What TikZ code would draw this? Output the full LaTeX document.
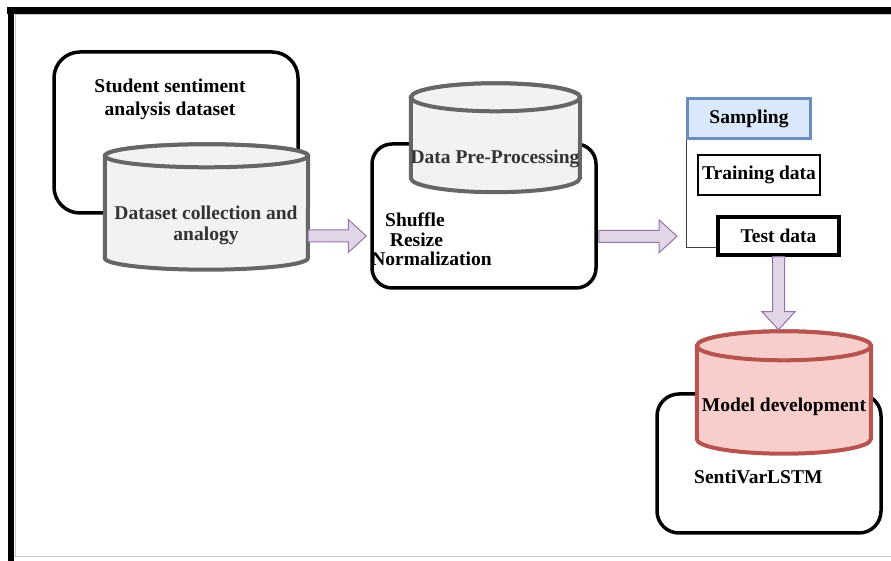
\documentclass[tikz,border=0pt]{standalone}
\usepackage{fontspec}
\setmainfont{Liberation Serif}
\usetikzlibrary{calc}

\definecolor{cylfill}{HTML}{F2F2F2}
\definecolor{cylline}{HTML}{666666}
\definecolor{modelfill}{HTML}{F8CECC}
\definecolor{modelline}{HTML}{B85450}
\definecolor{sampfill}{HTML}{DAE8FC}
\definecolor{sampline}{HTML}{6C8EBF}
\definecolor{arrfill}{HTML}{E1D5E7}
\definecolor{arrline}{HTML}{9673A6}

% block arrow between two points: from, to
\newcommand\blockarrow[2]{%
	\draw[blockarr] ($(#1)!6pt!90:(#2)$) -- ($(#2)!18pt!(#1)!6pt!90:(#2)$) -- ($(#2)!18pt!(#1)!16.5pt!90:(#2)$) -- (#2) -- ($(#2)!18pt!(#1)!16.5pt!-90:(#2)$) -- ($(#2)!18pt!(#1)!6pt!-90:(#2)$) -- ($(#1)!6pt!-90:(#2)$) -- cycle;}

% cylinder round a body node: node, style, x radius, y radius
\newcommand\drawcyl[4]{%
	\path[#2] (#1.north west) -- (#1.south west) arc[start angle=180, end angle=360, x radius=#3, y radius=#4] -- (#1.north east) arc[start angle=0, end angle=180, x radius=#3, y radius=#4] -- cycle;
	\path[#2] (#1.north) ellipse[x radius=#3, y radius=#4];}

\begin{document}
\begin{tikzpicture}[x=1pt,y=1pt,font=\bfseries\fontsize{19.5}{21}\selectfont,
	roundbox/.style={draw=black,line width=3.5pt,inner sep=0pt},
	cylbody/.style={inner sep=0pt},
	cylgray/.style={fill=cylfill,draw=cylline,line width=4pt},
	cylred/.style={fill=modelfill,draw=modelline,line width=4pt},
	databox/.style={draw=black,inner sep=0pt},
	blockarr/.style={fill=arrfill,draw=arrline,line width=1pt,line join=miter},
	framegray/.style={draw=black!22,line width=1pt}]
	\useasboundingbox (0,0) rectangle (891,561);
	
	%frame
	\fill (7,547) rectangle (891,554); %top bar
	\fill (8,0) rectangle (14,554); %left bar
	\draw[framegray] (15,4) -- (15,546.5) -- (891,546.5); %inner line
	\draw[framegray] (14,4) -- (891,4); %bottom line
	
	%dataset------------------------------------------
	\node[roundbox,rounded corners=26pt,minimum width=244,minimum height=161] (dataset) at (176,428.5) {}; %dataset box
	\node[align=center,font=\bfseries\fontsize{19.5}{23}\selectfont] (datasettxt) at (170,462) {Student sentiment\\analysis dataset}; %dataset title
	\node[cylbody,minimum width=203,minimum height=102] (collect) at (206.5,354) {}; %cylinder 1
	\drawcyl{collect}{cylgray}{101.5}{11.5}
	\node[align=center,text=black!80] (collecttxt) at (206,336) {Dataset collection and\\analogy}; %cylinder 1 text
	
	%pre-processing-----------------------------------
	\node[roundbox,rounded corners=20pt,minimum width=224,minimum height=144] (prep) at (484,345) {}; %pre-processing box
	\node[cylbody,minimum width=169,minimum height=80.5] (prepcyl) at (495.5,423.25) {}; %cylinder 2
	\drawcyl{prepcyl}{cylgray}{84.5}{14}
	\node[anchor=base,text=black!80] (preptxt) at (495,397.7) {Data Pre-Processing}; %cylinder 2 text
	\node[anchor=base] (shuffle) at (415,334) {Shuffle};
	\node[anchor=base] (resize) at (416.5,314) {Resize};
	\node[anchor=base] (norm) at (431.5,295) {Normalization};
	
	%sampling-----------------------------------------
	\node[databox,fill=sampfill,draw=sampline,line width=3pt,minimum width=123,minimum height=40] (sampling) at (749,442.5) {Sampling};
	\node[databox,line width=2pt,minimum width=122,minimum height=40] (train) at (759,386) {Training data};
	\node[databox,line width=3.5pt,minimum width=121,minimum height=38] (test) at (778.5,325) {Test data};
	\draw[draw=black!75,line width=1pt] (sampling.south west) |- ([yshift=9pt]test.south west); %sampling to test
	
	%model--------------------------------------------
	\node[roundbox,rounded corners=22pt,minimum width=224,minimum height=139] (model) at (769,97.5) {}; %model box
	\node[cylbody,minimum width=174,minimum height=93] (modelcyl) at (784,168.5) {}; %cylinder 3
	\drawcyl{modelcyl}{cylred}{87}{14.5}
	\node[anchor=base] (modeltxt) at (784,149.3) {Model development}; %cylinder 3 text
	\node[anchor=base] (lstm) at (758.3,77) {SentiVarLSTM};
	
	%arrows
	\coordinate (a1s) at ([yshift=-29pt]collect.east);
	\coordinate (a1e) at ([xshift=-4pt,yshift=-20pt]prep.west);
	\coordinate (a2s) at ([xshift=1pt,yshift=-20.3pt]prep.east);
	\coordinate (a2e) at (677,324.7);
	\coordinate (a3e) at ([yshift=-73pt]test.south);
	\blockarrow{a1s}{a1e} %arrow 1
	\blockarrow{a2s}{a2e} %arrow 2
	\blockarrow{test.south}{a3e} %arrow 3
	
\end{tikzpicture}
\end{document}
